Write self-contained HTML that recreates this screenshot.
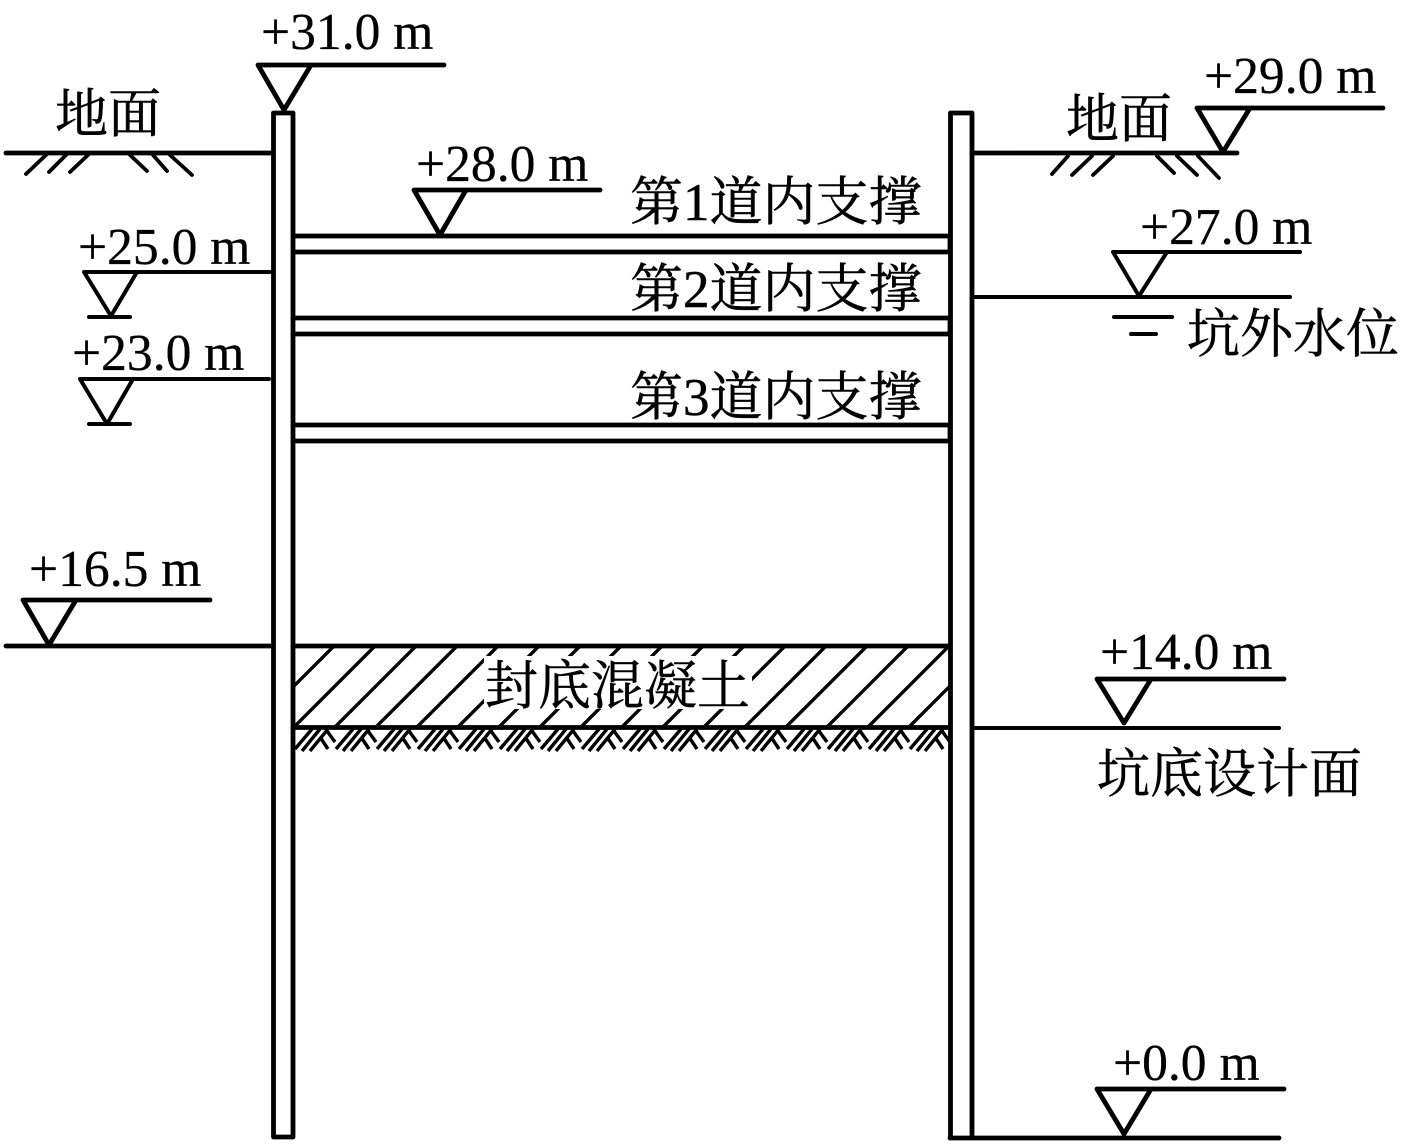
<!DOCTYPE html>
<html lang="zh">
<head>
<meta charset="utf-8">
<title>基坑支护剖面图</title>
<style>
html,body{margin:0;padding:0;background:#fff}
svg{display:block}
.n{font-family:"Liberation Serif","Noto Serif CJK SC",serif;font-size:51.6px;fill:#000;stroke:#000;stroke-width:.3px}
.c{font-family:"Liberation Serif","Noto Serif CJK SC",serif;font-size:53px;fill:#000;stroke:#000;stroke-width:.5px}
</style>
</head>
<body>
<svg width="1417" height="1148" viewBox="0 0 1417 1148" xmlns="http://www.w3.org/2000/svg">
<defs>
<pattern id="h" patternUnits="userSpaceOnUse" x="293" y="729" width="41" height="23">
<g stroke="#000" stroke-width="3.4" fill="none">
<path d="M2 20L19 0M9 22L27 0M17 22L35 0"/>
<path d="M27 8L35 20M34 2L42 13M-7 2L1 13"/>
</g>
</pattern>
<clipPath id="cb"><rect x="293" y="646" width="658" height="81"/></clipPath>
</defs>
<rect width="1417" height="1148" fill="#fff"/>

<g clip-path="url(#cb)" stroke="#000" stroke-width="3.4" fill="none">
<path d="M253 727L335 645M294 727L376 645M335 727L417 645M376 727L458 645M417 727L499 645M458 727L540 645M499 727L581 645M540 727L622 645M581 727L663 645M622 727L704 645M663 727L745 645M704 727L786 645M745 727L827 645M786 727L868 645M827 727L909 645M868 727L950 645M909 727L991 645"/>
</g>
<rect x="484" y="656" width="268" height="53" fill="#fff"/>
<rect x="293" y="729" width="657" height="23" fill="url(#h)"/>

<g stroke="#000" stroke-width="4.8" fill="none" stroke-linecap="round" stroke-linejoin="round">
<!-- walls -->
<path d="M273.5 1137V113H293V1137H273.5"/>
<path d="M950.5 1137V113H972V1137"/>
<!-- struts -->
<path d="M293 236H950V252H293M293 318H950V334H293M293 425H950V441H293"/>
<path d="M293 646H950M293 727.5H950"/>
<!-- ground left -->
<path d="M6 153H272" />
<path d="M26 174L47 154M49 172L66 155M70 172L88 155M130 155L147 171M153 155L167 171M170 155L192 175" stroke-width="3.8"/>
<!-- ground right -->
<path d="M972 153H1237"/>
<path d="M1052 174L1068 156M1072 175L1092 156M1093 175L1113 156M1157 156L1174 173M1177 156L1197 175M1198 156L1219 178" stroke-width="3.8"/>
<!-- markers -->
<path d="M444 65H258L284 110L311 65"/>
<path d="M600 190H414L440 235L466 190"/>
<path d="M272 272H84L111 316L137 272M89 317H130" stroke-width="4"/>
<path d="M269 379H80L107 424L133 379M89 424H130" stroke-width="4"/>
<path d="M210 600H23L49 645L76 600"/>
<path d="M6 646H272"/>
<path d="M1383 108H1197L1223 152L1250 108"/>
<path d="M1300 252H1113L1139 296L1167 252" stroke-width="4"/>
<path d="M972 297H1290" stroke-width="4"/>
<path d="M1114 317H1172M1131 334H1156" stroke-width="4"/>
<path d="M1284 679H1097L1124 723L1151 679"/>
<path d="M972 728H1279" stroke-width="4"/>
<path d="M1284 1089H1097L1124 1134L1151 1089"/>
<path d="M950 1138H1279"/>
</g>

<text class="n" x="261" y="49">+31.0 m</text>
<text class="n" x="416" y="181">+28.0 m</text>
<text class="n" x="78" y="264">+25.0 m</text>
<text class="n" x="72" y="370">+23.0 m</text>
<text class="n" x="29" y="586">+16.5 m</text>
<text class="n" x="1204" y="93">+29.0 m</text>
<text class="n" x="1140" y="244">+27.0 m</text>
<text class="n" x="1100" y="669">+14.0 m</text>
<text class="n" x="1113" y="1080">+0.0 m</text>

<text class="c" x="55" y="132">地面</text>
<text class="c" x="1066" y="137">地面</text>
<text class="c" x="630" y="220">第1道内支撑</text>
<text class="c" x="630" y="307">第2道内支撑</text>
<text class="c" x="630" y="415">第3道内支撑</text>
<text class="c" x="1187" y="352">坑外水位</text>
<text class="c" x="485" y="704">封底混凝土</text>
<text class="c" x="1097" y="792">坑底设计面</text>
</svg>
</body>
</html>
